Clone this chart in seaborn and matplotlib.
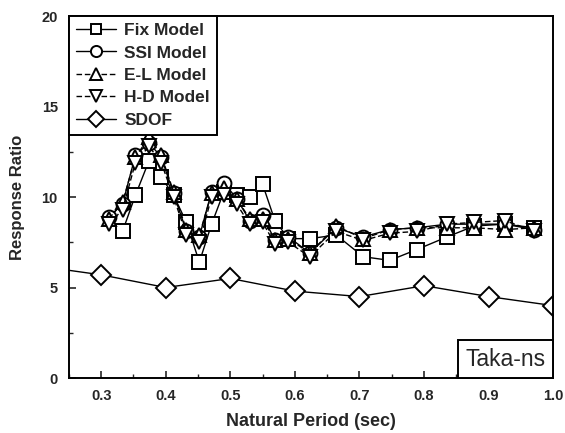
import matplotlib
matplotlib.use("Agg")
import matplotlib.pyplot as plt
import seaborn as sns
import pandas as pd
import numpy as np
from matplotlib.ticker import MultipleLocator
from matplotlib.offsetbox import AnchoredText

# ---- data ----
periods = [0.312, 0.333, 0.353, 0.374, 0.393, 0.412, 0.432, 0.452, 0.471, 0.490,
           0.510, 0.530, 0.550, 0.569, 0.590, 0.623, 0.664, 0.706, 0.747, 0.789,
           0.836, 0.878, 0.925, 0.971]
fix_periods = periods[1:]
fix_model = [8.1, 10.1, 12.0, 11.1, 10.1, 8.6, 6.4, 8.5, 10.3, 10.1, 10.0, 10.7,
             8.7, 7.7, 7.7, 7.9, 6.7, 6.5, 7.1, 7.8, 8.4, 8.5, 8.3]
ssi_model = [8.9, 9.6, 12.3, 13.0, 12.2, 10.2, 8.1, 7.8, 10.3, 10.8, 9.9, 8.7,
             9.0, 7.6, 7.8, 6.9, 8.3, 7.8, 8.2, 8.3, 8.5, 8.5, 8.5, 8.2]
el_model = [8.8, 9.7, 12.2, 13.3, 12.3, 10.3, 8.2, 7.9, 10.2, 10.5, 9.9, 8.8,
            8.8, 7.6, 7.7, 6.9, 8.4, 7.7, 8.2, 8.3, 8.3, 8.3, 8.2, 8.3]
hd_model = [8.5, 9.3, 11.9, 12.8, 11.9, 10.0, 7.9, 7.5, 10.0, 10.1, 9.6, 8.5,
            8.6, 7.4, 7.5, 6.7, 8.1, 7.6, 8.0, 8.1, 8.5, 8.6, 8.7, 8.1]
sdof_periods = [0.2, 0.3, 0.4, 0.5, 0.6, 0.7, 0.8, 0.9, 1.0]
sdof = [6.2, 5.7, 5.0, 5.5, 4.8, 4.5, 5.1, 4.5, 4.0]

x_ticks = [0.3, 0.4, 0.5, 0.6, 0.7, 0.8, 0.9, 1.0]
x_ticklabels = ["0.3", "0.4", "0.5", "0.6", "0.7", "0.8", "0.9", "1.0"]
y_ticks = [0, 5, 10, 15, 20]

sns.set_style("ticks")
plt.rcParams['font.family'] = ['Liberation Sans', 'DejaVu Sans']

fig = plt.figure(figsize=(5.65, 4.33), dpi=100)
ax = fig.add_axes([0.122, 0.127, 0.857, 0.836])

series = [
    ("Fix Model", fix_periods, fix_model, "s", "-", 9.5),
    ("SSI Model", periods, ssi_model, "o", "-", 10),
    ("E-L Model", periods, el_model, "^", (0, (4, 2)), 10.5),
    ("H-D Model", periods, hd_model, "v", (0, (4, 2)), 10.5),
    ("SDOF", sdof_periods, sdof, "D", "-", 10.5),
]
for name, xs, ys, mk, ls, ms in series:
    df = pd.DataFrame({"x": xs, "y": ys})
    sns.lineplot(data=df, x="x", y="y", ax=ax, color="black", lw=1.0,
                 linestyle=ls, marker=mk, markersize=ms,
                 markerfacecolor="white", markeredgecolor="black",
                 markeredgewidth=1.4, label=name, sort=False)

ax.set_xlim(0.25, 1.0)
ax.set_ylim(0, 20)
ax.set_xticks(x_ticks)
ax.set_xticklabels(x_ticklabels)
ax.set_yticks(y_ticks)
ax.xaxis.set_minor_locator(MultipleLocator(0.05))
ax.yaxis.set_minor_locator(MultipleLocator(2.5))
ax.tick_params(axis="both", which="both", direction="in", top=False, right=False,
               labelsize=10.5, pad=8)
ax.tick_params(which="major", length=5, width=1.2)
ax.tick_params(which="minor", length=3, width=1.0)
for lab in ax.get_xticklabels() + ax.get_yticklabels():
    lab.set_fontweight("bold")
for s in ax.spines.values():
    s.set_linewidth(1.4)
    s.set_color("black")

ax.set_xlabel("Natural Period (sec)", fontsize=13, fontweight="bold", labelpad=7)
ax.set_ylabel("Response Ratio", fontsize=12, fontweight="bold", labelpad=12)

leg = ax.legend(loc="upper left", borderaxespad=0, frameon=True, fancybox=False,
                handlelength=2.3, handletextpad=0.5, labelspacing=0.42,
                borderpad=0.4, markerscale=0.8,
                prop={"size": 12.5, "weight": "bold"})
leg.get_frame().set_edgecolor("black")
leg.get_frame().set_linewidth(1.4)
leg.get_frame().set_alpha(1)

at = AnchoredText("Taka-ns", loc="lower right", pad=0.32, borderpad=0,
                  prop=dict(size=16.5), frameon=True)
at.patch.set_boxstyle("square,pad=0")
at.patch.set_edgecolor("black")
at.patch.set_linewidth(1.4)
at.set_zorder(5)
ax.add_artist(at)

fig.savefig("out.png", dpi=100)
